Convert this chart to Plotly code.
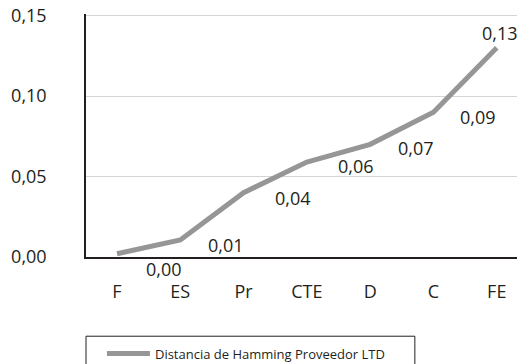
import plotly.graph_objects as go

categories = ["F", "ES", "Pr", "CTE", "D", "C", "FE"]
values = [0.002, 0.0106, 0.040, 0.059, 0.070, 0.090, 0.130]
y_ticks = [0.00, 0.05, 0.10, 0.15]
series_name = "Distancia de Hamming Proveedor LTD"

# label offsets (styling, px)
label_dx = [47, 46, 49, 49, 46, 45, 3]
label_dy = [-15, -5, -5, -4, -4, -5, 15]

FONT = "Open Sans"
TXT = "#231f20"
LINE = "#969696"

fig = go.Figure()
fig.add_trace(go.Scatter(
    x=categories, y=values, mode="lines", name=series_name,
    line=dict(color=LINE, width=5),
))

for c, v, dx, dy in zip(categories, values, label_dx, label_dy):
    fig.add_annotation(x=c, y=v, xref="x", yref="y", text=f"{v:.2f}".replace(".", ","),
                       showarrow=False, xanchor="center", yanchor="middle",
                       xshift=dx, yshift=dy, font=dict(family=FONT, size=18, color=TXT))

# legend frame
fig.add_shape(type="rect", xref="paper", yref="paper", x0=0, x1=0.763, y0=-0.326, y1=-0.7,
              line=dict(color=TXT, width=1), fillcolor="rgba(0,0,0,0)", layer="above")

fig.update_layout(
    width=517, height=364,
    margin=dict(l=86, r=0, t=14, b=107, autoexpand=False),
    paper_bgcolor="white", plot_bgcolor="white",
    separators=",.",
    font=dict(family=FONT, size=18, color=TXT),
    showlegend=True,
    legend=dict(orientation="h", x=0.037, xanchor="left", y=-0.336, yanchor="top",
                borderwidth=0, bgcolor="rgba(0,0,0,0)", font=dict(size=13, color=TXT),
                itemwidth=43),
    xaxis=dict(type="category", range=[-0.49, 6.32], showline=True, linecolor=TXT, linewidth=1.5,
               showgrid=False, ticks="", ticklabelstandoff=18, tickfont=dict(size=18)),
    yaxis=dict(range=[0, 0.151], tickvals=y_ticks, tickformat=".2f", showline=True, linecolor=TXT,
               linewidth=1.5, gridcolor="#d4d4d4", gridwidth=1, zeroline=False, ticks="",
               ticklabelstandoff=34, ticklabeloverflow="allow", tickfont=dict(size=18)),
)

fig.write_html("out.html", config={"displayModeBar": False},
               post_script="document.body.style.margin='0';document.body.style.overflow='hidden';")
